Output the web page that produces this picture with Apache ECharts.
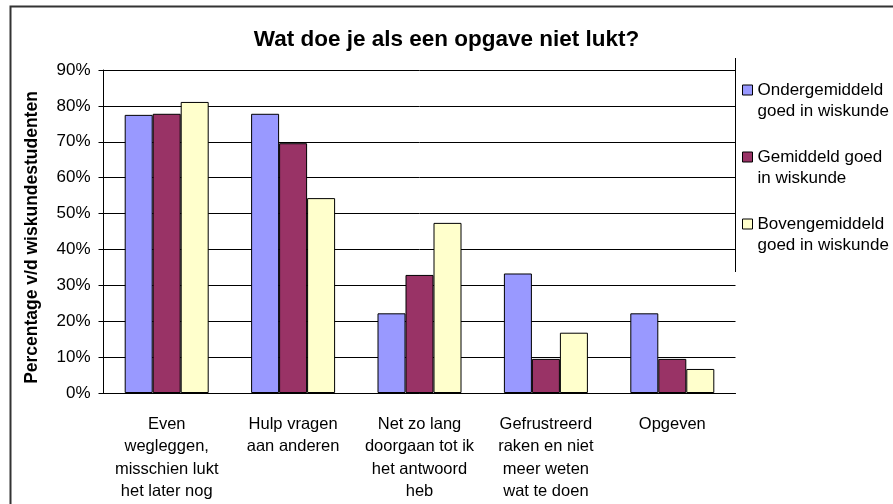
<!DOCTYPE html>
<html>
<head>
<meta charset="utf-8">
<script src="https://cdn.jsdelivr.net/npm/echarts@6/dist/echarts.min.js"></script>
<style>
  html, body { margin: 0; padding: 0; background: #fff; }
  #chart { width: 893px; height: 504px; }
</style>
</head>
<body>
<div id="chart"></div>
<script>
// Gegroepeerde staafgrafiek: wat doen studenten als een opgave niet lukt

const categories = [
  'Even\nwegleggen,\nmisschien lukt\nhet later nog',
  'Hulp vragen\naan anderen',
  'Net zo lang\ndoorgaan tot ik\nhet antwoord\nheb',
  'Gefrustreerd\nraken en niet\nmeer weten\nwat te doen',
  'Opgeven',
]
const seriesNames = [
  'Ondergemiddeld\ngoed in wiskunde',
  'Gemiddeld goed\nin wiskunde',
  'Bovengemiddeld\ngoed in wiskunde',
]
const onder = [77.5, 77.8, 22.2, 33.3, 22.2]
const gemiddeld = [77.8, 69.6, 32.9, 9.5, 9.5]
const boven = [81.1, 54.3, 47.4, 16.8, 6.7]
const yTicks = [0, 10, 20, 30, 40, 50, 60, 70, 80, 90]

const colors = ['#9999FF', '#993366', '#FFFFCC']
const font = "'Liberation Sans', Arial, sans-serif"

const chart = echarts.init(document.getElementById('chart'), null, { renderer: 'canvas' })

chart.setOption({
  backgroundColor: '#fff',
  animation: false,
  title: {
    text: 'Wat doe je als een opgave niet lukt?',
    left: 'center',
    top: 23,
    textStyle: { fontFamily: font, fontSize: 22.5, fontWeight: 'bold', color: '#000' },
  },
  legend: {
    orient: 'vertical',
    left: 742,
    top: 58.5,
    padding: 0,
    itemWidth: 10,
    itemHeight: 10,
    itemGap: 4,
    icon: 'rect',
    data: seriesNames,
    // lege eerste regel zodat het blokje naast de eerste tekstregel staat
    formatter: (name) => '\n' + name,
    itemStyle: { borderColor: '#000', borderWidth: 1 },
    textStyle: { fontFamily: font, fontSize: 17, color: '#000', lineHeight: 21 },
  },
  grid: { left: 103.5, right: 157.5, top: 70, bottom: 111, containLabel: false },
  xAxis: {
    type: 'category',
    data: categories,
    axisLine: { lineStyle: { color: '#000', width: 1 } },
    axisTick: { length: 6, lineStyle: { color: '#000' } },
    axisLabel: {
      interval: 0, margin: 20, color: '#000',
      fontFamily: font, fontSize: 16.5, lineHeight: 22.5,
    },
  },
  yAxis: {
    type: 'value',
    min: yTicks[0],
    max: yTicks[yTicks.length - 1],
    interval: 10,
    name: 'Percentage v/d wiskundestudenten',
    nameLocation: 'middle',
    nameGap: 62,
    nameTextStyle: {
      fontFamily: font, fontSize: 17.5, fontWeight: 'bold', color: '#000',
      padding: [0, 12, 0, 0],
    },
    axisLine: { show: true, lineStyle: { color: '#000', width: 1 } },
    axisTick: { show: true, length: 5, lineStyle: { color: '#000' } },
    axisLabel: {
      margin: 13, color: '#000', fontFamily: font, fontSize: 17,
      formatter: (v) => v + '%',
    },
    splitLine: { lineStyle: { color: '#000', width: 1 } },
  },
  series: [onder, gemiddeld, boven].map((d, i) => ({
    name: seriesNames[i],
    type: 'bar',
    data: d,
    barWidth: 28,
    barGap: '0%',
    itemStyle: { color: colors[i], borderColor: '#000', borderWidth: 1 },
  })),
  graphic: [
    {
      type: 'rect',
      shape: { x: 10.5, y: 6.5, width: 900, height: 520 },
      style: { fill: 'none', stroke: '#333', lineWidth: 2 },
      silent: true,
    },
    {
      type: 'line',
      shape: { x1: 735.5, y1: 58, x2: 735.5, y2: 272 },
      style: { stroke: '#000', lineWidth: 1 },
      silent: true,
    },
  ],
})
</script>
</body>
</html>
